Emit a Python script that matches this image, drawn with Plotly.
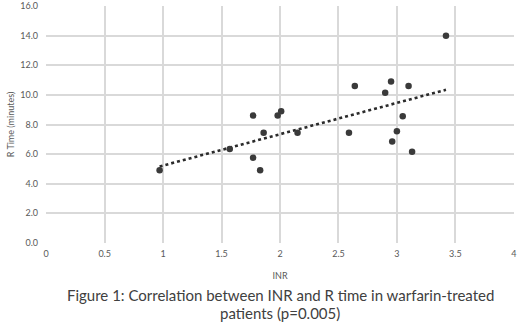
import numpy as np
import plotly.graph_objects as go

inr = [0.97, 1.57, 1.77, 1.77, 1.83, 1.86, 1.98, 2.01, 2.15, 2.59, 2.64,
       2.90, 2.95, 2.96, 3.00, 3.05, 3.10, 3.13, 3.42]
r_time = [4.9, 6.35, 8.6, 5.75, 4.9, 7.45, 8.6, 8.9, 7.45, 7.45, 10.6,
          10.15, 10.9, 6.85, 7.55, 8.55, 10.6, 6.15, 14.0]

x_ticks = [0, 0.5, 1, 1.5, 2, 2.5, 3, 3.5, 4]
x_tick_labels = ["0", "0.5", "1", "1.5", "2", "2.5", "3", "3.5", "4"]
y_ticks = [0, 2, 4, 6, 8, 10, 12, 14, 16]
y_tick_labels = ["0.0", "2.0", "4.0", "6.0", "8.0", "10.0", "12.0", "14.0", "16.0"]

caption_lines = ["Figure 1: Correlation between INR and R time in warfarin-treated",
                 "patients (p=0.005)"]

slope, intercept = np.polyfit(inr, r_time, 1)
tx = [min(inr), max(inr)]
ty = [slope * v + intercept for v in tx]

fig = go.Figure()
fig.add_trace(go.Scatter(x=tx, y=ty, mode="lines",
                         line=dict(color="#2b2b2b", width=2.6, dash="dot"),
                         hoverinfo="skip", showlegend=False))
fig.add_trace(go.Scatter(x=inr, y=r_time, mode="markers",
                         marker=dict(color="#3a3a3a", size=6.5),
                         showlegend=False))

font_family = "Lato, 'Open Sans', sans-serif"
fig.update_layout(
    width=520, height=328,
    margin=dict(l=46, r=6, t=6, b=85),
    paper_bgcolor="white", plot_bgcolor="white",
    font=dict(family=font_family, color="#595959", size=9),
    xaxis=dict(range=[-0.002, 4.002], tickvals=x_ticks, ticktext=x_tick_labels,
               showgrid=True, gridcolor="#d9d9d9", gridwidth=1.5,
               zeroline=False, showline=False, ticks="", automargin=False,
               ticklabelstandoff=4,
               tickfont=dict(size=9, color="#595959"),
               title=dict(text="INR", font=dict(size=9, color="#595959"), standoff=14)),
    yaxis=dict(range=[-0.01, 16.01], tickvals=y_ticks, ticktext=y_tick_labels,
               showgrid=True, gridcolor="#d9d9d9", gridwidth=1.5,
               zeroline=False, showline=False, ticks="", automargin=False,
               ticklabelstandoff=7,
               tickfont=dict(size=9, color="#595959"),
               title=dict(text="R Time (minutes)", font=dict(size=9, color="#595959"), standoff=4)),
    annotations=[
        dict(text=caption_lines[0], xref="paper", yref="paper",
             x=0.5, y=-0.218, xanchor="center", yanchor="middle",
             showarrow=False, font=dict(size=15, color="#404040", family=font_family)),
        dict(text=caption_lines[1], xref="paper", yref="paper",
             x=0.5, y=-0.297, xanchor="center", yanchor="middle",
             showarrow=False, font=dict(size=15, color="#404040", family=font_family)),
    ],
)

fig.write_html("out.html", config={"displayModeBar": False},
               post_script="document.body.style.margin='0';")
